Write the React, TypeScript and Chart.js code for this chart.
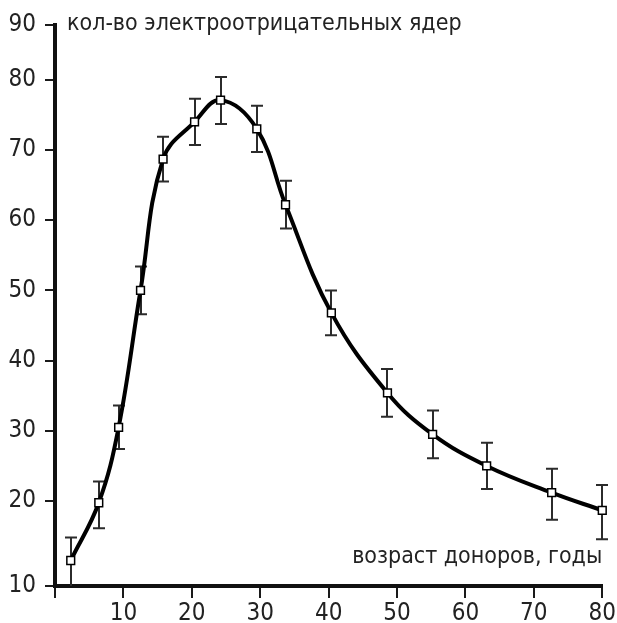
import React, { useEffect, useRef } from 'react';
import { Chart, registerables, LinearScale } from 'chart.js';

Chart.register(...registerables);

// ---- data ----
const ages = [2.3, 6.4, 9.3, 12.5, 15.8, 20.4, 24.2, 29.5, 33.7, 40.4, 48.6, 55.2, 63.1, 72.6, 80.0];
const nucleiCounts = [13.0, 19.8, 30.5, 50.0, 68.7, 74.0, 77.1, 73.0, 62.2, 46.8, 35.4, 29.5, 25.0, 21.2, 18.9];
const countErrors = [2.7, 3.0, 3.1, 3.4, 3.2, 3.3, 3.4, 3.3, 3.4, 3.2, 3.4, 3.4, 3.3, 3.4, 3.4];

const xTickValues = [0, 10, 20, 30, 40, 50, 60, 70, 80];
const xTickLabels = ['', '10', '20', '30', '40', '50', '60', '70', '80'];
const yTickValues = [10, 20, 30, 40, 50, 60, 70, 80, 90];
const yTickLabels = ['10', '20', '30', '40', '50', '60', '70', '80', '90'];

const yAxisTitle = 'кол-во электроотрицательных ядер';
const xAxisTitle = 'возраст доноров, годы';

// The drawn value axis is not uniform: the 10–20 span is drawn longer
// and the 80–90 span shorter than the evenly spaced middle spans.
const LOW_SPAN_STRETCH = 1.21;
const HIGH_SPAN_STRETCH = 0.78;

function warp(v: number): number {
  if (v < 20) return 20 - (20 - v) * LOW_SPAN_STRETCH;
  if (v > 80) return 80 + (v - 80) * HIGH_SPAN_STRETCH;
  return v;
}
function unwarp(w: number): number {
  if (w < 20) return 20 - (20 - w) / LOW_SPAN_STRETCH;
  if (w > 80) return 80 + (w - 80) / HIGH_SPAN_STRETCH;
  return w;
}

class StretchedLinearScale extends LinearScale {
  static id = 'stretchedLinear';
  static defaults = {};
  configure() {
    super.configure();
    const s = warp(this.min);
    const e = warp(this.max);
    (this as any)._startValue = s;
    (this as any)._endValue = e;
    (this as any)._valueRange = e - s;
  }
  getPixelForValue(value: number) {
    if (value === null || value === undefined) return NaN;
    const self = this as any;
    return this.getPixelForDecimal((warp(value) - self._startValue) / self._valueRange);
  }
  getValueForPixel(pixel: number) {
    const self = this as any;
    return unwarp(self._startValue + this.getDecimalForPixel(pixel) * self._valueRange);
  }
}
Chart.register(StretchedLinearScale as any);

const FONT = "'DejaVu Sans Condensed', 'Liberation Sans Narrow', sans-serif";
const TEXT_COLOR = '#222';

const errorBarPlugin = {
  id: 'errorBars',
  beforeDatasetsDraw(chart: any) {
    const { ctx, scales, chartArea } = chart;
    const x = scales.x;
    const y = scales.y;
    ctx.save();
    ctx.strokeStyle = '#2b2b2b';
    ctx.lineWidth = 2;
    const cap = 6;
    ages.forEach((a, i) => {
      const px = Math.round(x.getPixelForValue(a));
      const top = y.getPixelForValue(nucleiCounts[i] + countErrors[i]);
      let bot = y.getPixelForValue(nucleiCounts[i] - countErrors[i]);
      const nearAxis = bot > chartArea.bottom - 5;
      if (nearAxis) bot = chartArea.bottom;
      ctx.beginPath();
      ctx.moveTo(px, top);
      ctx.lineTo(px, bot);
      ctx.moveTo(px - cap, top);
      ctx.lineTo(px + cap, top);
      if (!nearAxis) {
        ctx.moveTo(px - cap, bot);
        ctx.lineTo(px + cap, bot);
      }
      ctx.stroke();
    });
    ctx.restore();
  },
};

const axisTitlePlugin = {
  id: 'axisTitles',
  afterDraw(chart: any) {
    const { ctx, chartArea } = chart;
    ctx.save();
    ctx.fillStyle = TEXT_COLOR;
    ctx.font = `23px ${FONT}`;
    ctx.textBaseline = 'alphabetic';
    ctx.textAlign = 'left';
    ctx.fillText(yAxisTitle, chartArea.left + 12, chartArea.top + 5);
    ctx.textAlign = 'right';
    ctx.fillText(xAxisTitle, chartArea.right, chartArea.bottom - 23);
    ctx.restore();
  },
};

export default function App() {
  const canvasRef = useRef<HTMLCanvasElement | null>(null);

  useEffect(() => {
    document.body.style.margin = '0';
    const canvas = canvasRef.current;
    if (!canvas) return;
    const chart = new Chart(canvas, {
      type: 'line',
      data: {
        datasets: [
          {
            data: ages.map((a, i) => ({ x: a, y: nucleiCounts[i] })),
            borderColor: '#000',
            borderWidth: 4,
            tension: 0.4,
            pointStyle: 'rect',
            pointRadius: 5.5,
            pointBackgroundColor: '#fff',
            pointBorderColor: '#000',
            pointBorderWidth: 1.5,
            clip: false,
            fill: false,
          } as any,
        ],
      },
      options: {
        animation: false,
        responsive: true,
        maintainAspectRatio: false,
        layout: { padding: { top: 25, right: 14, left: 0, bottom: 0 } },
        plugins: {
          legend: { display: false },
          tooltip: { enabled: false },
        },
        scales: {
          x: {
            type: 'linear',
            min: 0,
            max: 80,
            afterBuildTicks: (s: any) => {
              s.ticks = xTickValues.map((v) => ({ value: v }));
            },
            afterFit: (s: any) => {
              s.height = 37;
            },
            ticks: {
              autoSkip: false,
              maxRotation: 0,
              padding: 1,
              color: TEXT_COLOR,
              font: { family: FONT, size: 24 },
              callback: (v: any) => {
                const idx = xTickValues.indexOf(Number(v));
                return idx >= 0 ? xTickLabels[idx] : '';
              },
            },
            grid: {
              display: true,
              drawOnChartArea: false,
              drawTicks: true,
              tickLength: 12,
              color: '#1a1a1a',
              lineWidth: 2,
            },
            border: { display: true, color: '#111', width: 4 },
          },
          y: {
            type: 'stretchedLinear' as any,
            min: 10,
            max: 90,
            afterBuildTicks: (s: any) => {
              s.ticks = yTickValues.map((v) => ({ value: v }));
            },
            afterFit: (s: any) => {
              s.width = 55;
            },
            ticks: {
              autoSkip: false,
              padding: 9,
              color: TEXT_COLOR,
              font: { family: FONT, size: 24 },
              callback: (v: any) => {
                const idx = yTickValues.indexOf(Number(v));
                return idx >= 0 ? yTickLabels[idx] : '';
              },
            },
            grid: {
              display: true,
              drawOnChartArea: false,
              drawTicks: true,
              tickLength: 10,
              color: '#1a1a1a',
              lineWidth: 2,
            },
            border: { display: true, color: '#111', width: 4 },
          },
        },
      },
      plugins: [errorBarPlugin, axisTitlePlugin],
    });
    return () => chart.destroy();
  }, []);

  return (
    <div style={{ position: 'relative', width: 617, height: 623, background: '#fff' }}>
      <canvas ref={canvasRef} />
    </div>
  );
}
